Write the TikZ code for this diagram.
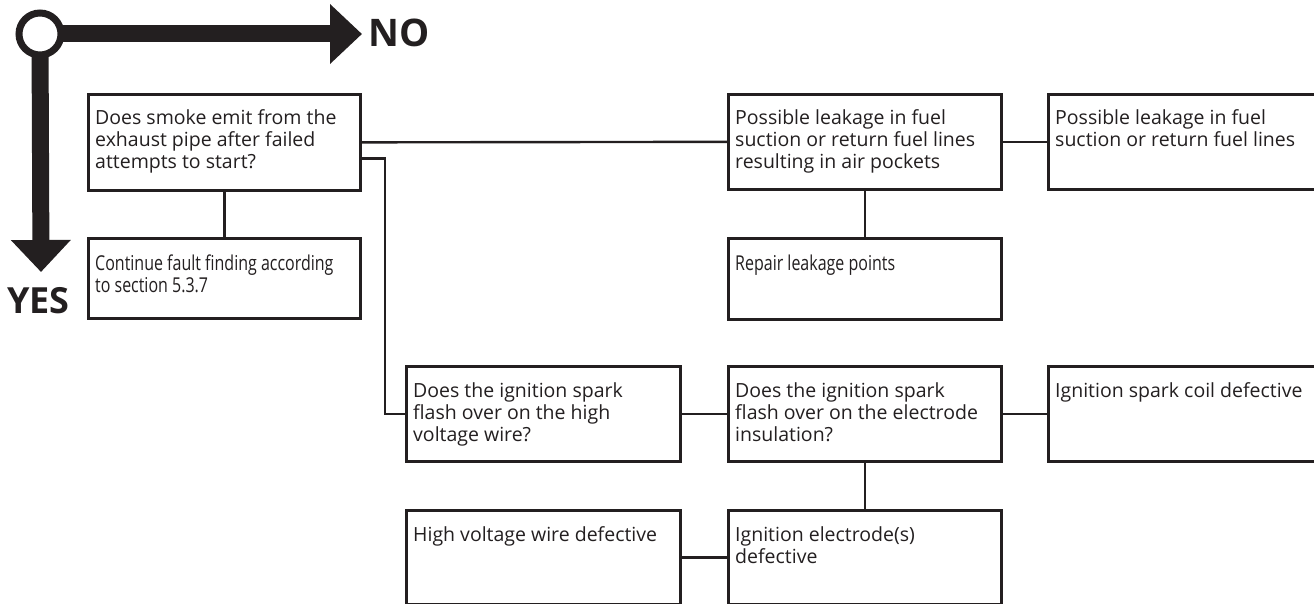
\documentclass[tikz,border=0pt]{standalone}
\usepackage{fontspec}
\setmainfont{Open Sans}
\newfontfamily\condfont[FakeStretch=0.78]{Open Sans}
\usetikzlibrary{arrows.meta}
\definecolor{ink}{HTML}{231F20}
\newcommand{\mytxt}[1]{\parbox[t]{300pt}{\raggedright #1}}
\begin{document}
\begin{tikzpicture}[x=1pt,y=-1pt,
  box/.style={draw=ink, line width=2.7pt, inner sep=0pt, anchor=north west, fill=white},
  txt/.style={anchor=base west, inner sep=0pt, text=ink, font=\fontsize{19.5}{22}\selectfont},
  ctxt/.style={anchor=base west, inner sep=0pt, text=ink, font=\condfont\fontsize{20.5}{22}\selectfont},
  wire/.style={draw=ink, line width=2.4pt},
  bar/.style={draw=ink, line width=17pt, -{Triangle[length=32pt 0 0,width=58pt 0 0]}},
  big/.style={anchor=base west, inner sep=0pt, text=ink, font=\bfseries\fontsize{38}{38}\selectfont}
]
\useasboundingbox (0,0) rectangle (1314,604);
% YES / NO indicator
\coordinate (hub) at (40,34);
\coordinate (nohead) at (362,34);
\coordinate (yeshead) at (41,272);
\draw[bar] (hub) -- (nohead);
\draw[bar] (hub) -- (yeshead);
\node[circle, draw=ink, fill=white, line width=7pt, inner sep=0pt, minimum size=42pt] (c) at (hub) {};
\node[big] (no) at (368,47) {NO};
\node[big, font=\bfseries\fontsize{36}{36}\selectfont] (yes) at (7,313) {YES};
% boxes
\node[box, minimum width=272pt, minimum height=96pt] (b1) at (87,93) {};
\node[box, minimum width=272pt, minimum height=80pt] (b2) at (87,237) {};
\node[box, minimum width=273pt, minimum height=95pt] (b3) at (727,93) {};
\node[box, minimum width=280pt, minimum height=95pt] (b4) at (1047,93) {};
\node[box, minimum width=273pt, minimum height=81pt] (b5) at (727,237) {};
\node[box, minimum width=274pt, minimum height=95pt] (b6) at (405,365) {};
\node[box, minimum width=273pt, minimum height=95pt] (b7) at (727,365) {};
\node[box, minimum width=280pt, minimum height=95pt] (b10) at (1047,365) {};
\node[box, minimum width=274pt, minimum height=94pt] (b8) at (405,509) {};
\node[box, minimum width=273pt, minimum height=94pt] (b9) at (727,509) {};
% texts
\node[txt] (t1) at ([xshift=8pt,yshift=-32pt]b1.north west) {\mytxt{Does smoke emit from the\\exhaust pipe after failed\\attempts to start?}};
\node[ctxt] (t2) at ([xshift=8pt,yshift=-33pt]b2.north west) {\mytxt{Continue fault finding according\\to section 5.3.7}};
\node[txt] (t3) at ([xshift=8pt,yshift=-32pt]b3.north west) {\mytxt{Possible leakage in fuel\\suction or return fuel lines\\resulting in air pockets}};
\node[txt] (t4) at ([xshift=8pt,yshift=-32pt]b4.north west) {\mytxt{Possible leakage in fuel\\suction or return fuel lines}};
\node[ctxt] (t5) at ([xshift=8pt,yshift=-33pt]b5.north west) {\mytxt{Repair leakage points}};
\node[txt] (t6) at ([xshift=8pt,yshift=-32pt]b6.north west) {\mytxt{Does the ignition spark\\flash over on the high\\voltage wire?}};
\node[txt] (t7) at ([xshift=8pt,yshift=-32pt]b7.north west) {\mytxt{Does the ignition spark\\flash over on the electrode\\insulation?}};
\node[txt] (t10) at ([xshift=8pt,yshift=-32pt]b10.north west) {\mytxt{Ignition spark coil defective}};
\node[txt] (t8) at ([xshift=8pt,yshift=-32pt]b8.north west) {\mytxt{High voltage wire defective}};
\node[txt] (t9) at ([xshift=8pt,yshift=-32pt]b9.north west) {\mytxt{Ignition electrode(s)\\defective}};
% connectors
\draw[wire] (b1.east) -- (b3.west);
\draw[wire] ([yshift=-16pt]b1.east) -- ++(23,0) |- (b6.west);
\draw[wire] (b1.south) -- (b2.north);
\draw[wire] (b3.east) -- (b4.west);
\draw[wire] (b3.south) -- (b5.north);
\draw[wire] (b6.east) -- (b7.west);
\draw[wire] (b7.east) -- (b7.east -| b10.west);
\draw[wire] (b7.south) -- (b9.north);
\draw[wire] (b8.east) -- (b9.west);
\end{tikzpicture}
\end{document}
